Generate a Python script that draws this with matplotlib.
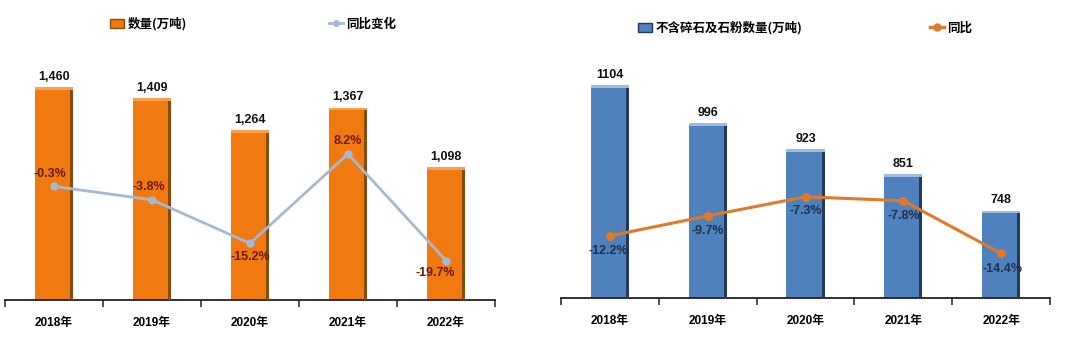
import matplotlib
matplotlib.use("Agg")
import matplotlib.pyplot as plt
import numpy as np
from matplotlib.lines import Line2D
from matplotlib.patches import Patch

years = ["2018年", "2019年", "2020年", "2021年", "2022年"]
qty_left = [1460, 1409, 1264, 1367, 1098]
yoy_left = [-0.3, -3.8, -15.2, 8.2, -19.7]
qty_right = [1104, 996, 923, 851, 748]
yoy_right = [-12.2, -9.7, -7.3, -7.8, -14.4]

FAM = ["Liberation Sans Narrow", "Liberation Sans", "Noto Sans CJK SC", "DejaVu Sans"]
CJK = ["Noto Sans CJK SC", "DejaVu Sans"]
plt.rcParams["font.family"] = FAM

W, H = 1080, 338
fig = plt.figure(figsize=(W / 100, H / 100), dpi=100)

def px_axes(x0, x1, ytop, ybot):
    return fig.add_axes([x0 / W, (H - ybot) / H, (x1 - x0) / W, (ybot - ytop) / H])

def draw_panel(ax, vals, yoy, bar_c, edge_c, top_c, line_c, pct_c, ylim, y2lim,
               pct_offsets, fmt, lw, ms):
    x = np.arange(len(vals))
    bw = 0.39
    ax.set_xlim(-0.5, len(vals) - 0.5)
    ax.set_ylim(*ylim)
    ax.bar(x, vals, width=bw, color=bar_c, zorder=2)
    # right-side shadow and light top strip for the 3D look
    ax.bar(x + bw / 2 - 0.015, vals, width=0.03, color=edge_c, zorder=3)
    cap = (ylim[1] - ylim[0]) * 0.012
    ax.bar(x, [cap] * len(vals), bottom=[v - cap for v in vals], width=bw,
           color=top_c, zorder=3)
    for xi, v in zip(x, vals):
        ax.annotate(fmt(v), (xi, v), xytext=(0, 3), textcoords="offset points",
                    ha="center", va="bottom", fontsize=9, fontweight="bold",
                    color="#111111")
    for s in ["left", "right", "top"]:
        ax.spines[s].set_visible(False)
    ax.spines["bottom"].set_linewidth(1.3)
    ax.spines["bottom"].set_color("#222222")
    ax.set_yticks([])
    ax.set_xticks(x)
    ax.set_xticklabels(years, family=["Liberation Sans", "Noto Sans CJK SC"],
                       fontsize=8.5, fontweight="bold")
    ax.tick_params(axis="x", which="major", length=0, pad=12)
    ax.set_xticks(np.arange(-0.5, len(vals)), minor=True)
    ax.tick_params(axis="x", which="minor", length=5, width=1.1, color="#222222",
                   direction="out")

    ax2 = ax.twinx()
    ax2.set_ylim(*y2lim)
    ax2.set_yticks([])
    for s in ax2.spines.values():
        s.set_visible(False)
    ax2.plot(x, yoy, color=line_c, lw=lw, marker="o", ms=ms, zorder=4)
    for xi, p, off in zip(x, yoy, pct_offsets):
        ax2.annotate(f"{p}%", (xi, p), xytext=off, textcoords="offset points",
                     ha="center", va="center", fontsize=9, color=pct_c,
                     fontweight="bold")
    return ax2

# left panel
axL = px_axes(5, 495, 60, 300)
draw_panel(axL, qty_left, yoy_left, "#F07A10", "#8A4A0C", "#F8A050", "#A7B9D2",
           "#6B1A0A", (500, 500 + 240 / 0.2219), (-30, -30 + 240 / 3.824),
           [(-3, 9), (-2, 9), (0, -10), (0, 9), (-8, -9)],
           lambda v: f"{v:,}", 2.0, 5)

# right panel
axR = px_axes(561, 1050, 60, 298)
draw_panel(axR, qty_right, yoy_right, "#4F81BD", "#203A60", "#9CBCE6", "#E07A28",
           "#1F3050", (500, 500 + 238 / 0.3526), (-20, -20 + 238 / 7.97),
           [(-1, -11), (0, -11), (0, -10), (0, -11), (1, -11)],
           lambda v: f"{v}", 2.2, 5.5)

# legends
def leg(handle, label, x, y):
    fig.legend(handles=[handle], labels=[label], loc="center left",
               bbox_to_anchor=(x / W, 1 - y / H), frameon=False, handlelength=1.1,
               handletextpad=0.3, borderpad=0, borderaxespad=0,
               prop={"family": CJK, "size": 9, "weight": "bold"})

leg(Patch(facecolor="#F07A10", edgecolor="#8A4A0C"), "数量(万吨)", 110, 24)
leg(Line2D([], [], color="#A7B9D2", lw=2, marker="o", ms=4), "同比变化", 329, 24)
leg(Patch(facecolor="#4F81BD", edgecolor="#203A60"), "不含碎石及石粉数量(万吨)", 638, 28)
leg(Line2D([], [], color="#E07A28", lw=2.5, marker="o", ms=5), "同比", 930, 28)

fig.savefig("out.png", dpi=100)
